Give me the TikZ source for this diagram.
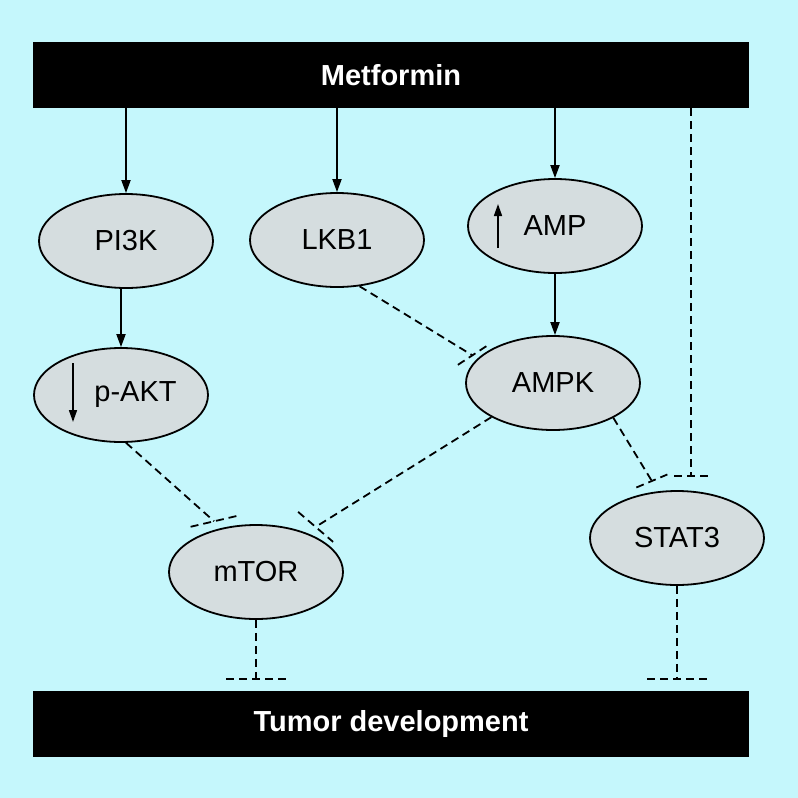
\documentclass[tikz,border=0pt]{standalone}
\usepackage{fontspec}
\setmainfont{Liberation Sans}
\usepackage{tikz}
\usetikzlibrary{calc,arrows.meta,shapes.geometric}
\definecolor{bgcyan}{HTML}{C5F7FC}
\definecolor{cellgray}{HTML}{D5DDDF}
\tikzset{
  drugBar/.style={fill=black, text=white, minimum width=716pt, minimum height=66pt, inner sep=0pt, font=\fontsize{29}{34}\selectfont\bfseries},
  protNode/.style={ellipse, draw=black, line width=1.8pt, fill=cellgray, minimum width=174pt, minimum height=94pt, inner sep=0pt, font=\fontsize{29}{34}\selectfont},
  actArrow/.style={-{Triangle[length=13pt,width=9pt]}, line width=1.8pt},
  levelArrow/.style={-{Triangle[length=12pt,width=8pt]}, line width=1.6pt},
  inhLine/.style={line width=1.8pt, dash pattern=on 8pt off 5pt}
}

\begin{document}
\begin{tikzpicture}[x=1pt,y=-1pt]
  \fill[bgcyan] (0,0) rectangle (798,798);
  \useasboundingbox (0,0) rectangle (798,798);

  \node[drugBar] (met) at (391,75) {Metformin};
  \node[drugBar] (tum) at (391,724) {Tumor development};

  \node[protNode] (pik) at (126,241) {PI3K};
  \node[protNode] (lkb) at (337,240) {LKB1};
  \node[protNode] (amp) at (555,226) {AMP};
  \node[protNode] (pakt) at (121,395) {\hspace*{29pt}p-AKT};
  \node[protNode] (ampk) at (553,383) {AMPK};
  \node[protNode] (mtor) at (256,572) {mTOR};
  \node[protNode] (stat) at (677,538) {STAT3};

  \draw[actArrow] (met.south -| pik.north) -- (pik.north);
  \draw[actArrow] (met.south -| lkb.north) -- (lkb.north);
  \draw[actArrow] (met.south -| amp.north) -- (amp.north);
  \draw[actArrow] (pik.south -| pakt.north) -- (pakt.north);
  \draw[actArrow] (amp.south) -- (amp.south |- ampk.north);

  \draw[levelArrow] ([shift={(-57,22)}]amp.center) -- ([shift={(-57,-22)}]amp.center);
  \draw[levelArrow] ([shift={(-48,-32)}]pakt.center) -- ([shift={(-48,27)}]pakt.center);

  \draw[inhLine] (lkb.-64) -- ($(ampk.162)!6pt!(lkb.-64)$) coordinate (lkbEnd);
  \draw[inhLine] ([shift={(-14.5,9.5)}]lkbEnd) -- ([shift={(14.5,-9.5)}]lkbEnd);

  \draw[inhLine] (pakt.-84) -- ($(mtor.128)!10pt!(pakt.-84)$) coordinate (paktEnd);
  \draw[inhLine] ([shift={(-23.5,5.5)}]paktEnd) -- ([shift={(23.5,-5.5)}]paktEnd);

  \draw[inhLine] (ampk.209) -- ($(mtor.38)!11pt!(ampk.209)$) coordinate (ampkEndA);
  \draw[inhLine] ([shift={(-17.5,-15)}]ampkEndA) -- ([shift={(17.5,15)}]ampkEndA);

  \draw[inhLine] (ampk.-30) -- ($(stat.112)!12pt!(ampk.-30)$) coordinate (ampkEndB);
  \draw[inhLine] ([shift={(-15.5,6.5)}]ampkEndB) -- ([shift={(15.5,-6.5)}]ampkEndB);

  \draw[inhLine] ([xshift=14pt]stat.north |- met.south) -- ([xshift=14pt,yshift=14pt]stat.north) coordinate (metEnd);
  \draw[inhLine] ([xshift=-17pt]metEnd) -- ([xshift=17pt]metEnd);

  \draw[inhLine] (mtor.south) -- ([yshift=12pt]mtor.south |- tum.north) coordinate (mtorEnd);
  \draw[inhLine] ([xshift=-30pt]mtorEnd) -- ([xshift=30pt]mtorEnd);

  \draw[inhLine] (stat.south) -- ([yshift=12pt]stat.south |- tum.north) coordinate (statEnd);
  \draw[inhLine] ([xshift=-30pt]statEnd) -- ([xshift=30pt]statEnd);
\end{tikzpicture}
\end{document}
